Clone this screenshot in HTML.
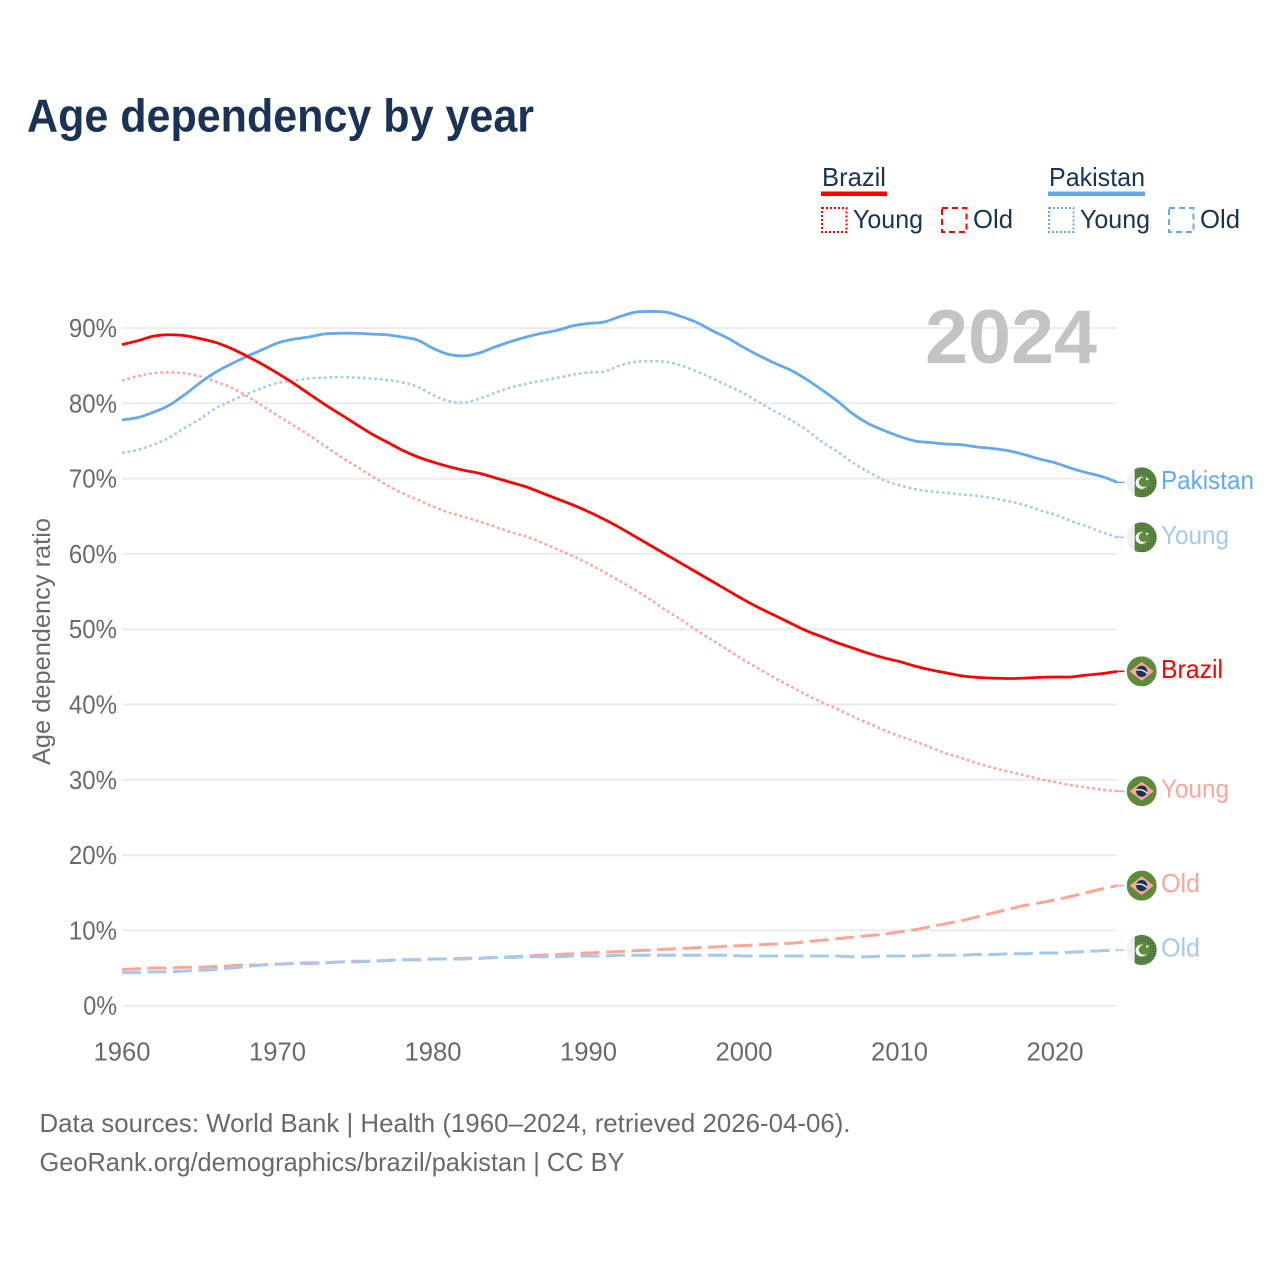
<!DOCTYPE html>
<html lang="en">
<head>
<meta charset="utf-8">
<title>Age dependency by year</title>
<style>
html,body{margin:0;padding:0;background:#fff;}
svg{display:block;font-family:"Liberation Sans",sans-serif;}
.navy{fill:#1a3354;}
.gray{fill:#666a6e;}
</style>
</head>
<body>
<svg id="chart" xmlns="http://www.w3.org/2000/svg" width="1280" height="1280" viewBox="0 0 1280 1280">
  <defs>
    <pattern id="dots" width="2.6" height="2.6" patternUnits="userSpaceOnUse">
      <rect width="2.6" height="2.6" fill="#5f8a3c"/>
      <rect x="0.7" y="0.7" width="1" height="1" fill="#1a3a66"/>
    </pattern>
    <clipPath id="flag-clip"><circle cx="0" cy="0" r="15"/></clipPath>
  </defs>
  <rect width="1280" height="1280" fill="#fff"/>
  <text class="navy" x="27" y="131.5" font-size="46" font-weight="700" textLength="507" lengthAdjust="spacingAndGlyphs">Age dependency by year</text>

  <g>
    <text class="navy" x="822" y="186" font-size="26" textLength="64" lengthAdjust="spacingAndGlyphs">Brazil</text>
    <rect x="821" y="191.5" width="66" height="4.5" fill="#ff0000"/>
    <rect x="822" y="208" width="24.5" height="24" fill="none" stroke="#ff0000" stroke-width="2" stroke-dasharray="2 2"/>
    <text class="navy" x="853" y="228" font-size="26" textLength="70" lengthAdjust="spacingAndGlyphs">Young</text>
    <rect x="942" y="208" width="24.5" height="24" fill="none" stroke="#ff0000" stroke-width="2" stroke-dasharray="6 4"/>
    <text class="navy" x="973" y="228" font-size="26" textLength="40" lengthAdjust="spacingAndGlyphs">Old</text>

    <text class="navy" x="1049" y="186" font-size="26" textLength="96" lengthAdjust="spacingAndGlyphs">Pakistan</text>
    <rect x="1048" y="191.5" width="97" height="4.5" fill="#64a8ee"/>
    <rect x="1049" y="208" width="24.5" height="24" fill="none" stroke="#64a8ee" stroke-width="2" stroke-dasharray="2 2"/>
    <text class="navy" x="1080" y="228" font-size="26" textLength="70" lengthAdjust="spacingAndGlyphs">Young</text>
    <rect x="1169" y="208" width="24.5" height="24" fill="none" stroke="#64a8ee" stroke-width="2" stroke-dasharray="6 4"/>
    <text class="navy" x="1200" y="228" font-size="26" textLength="40" lengthAdjust="spacingAndGlyphs">Old</text>
  </g>

  <g id="grid"></g>
  <g id="xaxis"></g>
  <text x="925" y="363" font-size="76" font-weight="700" fill="#c2c3c2" textLength="172" lengthAdjust="spacingAndGlyphs">2024</text>
  <text class="gray" transform="translate(50 765) rotate(-90)" x="0" y="0" font-size="25" textLength="247" lengthAdjust="spacingAndGlyphs">Age dependency ratio</text>
  <g id="series"></g>
  <g id="ends"></g>

  <text class="gray" x="39.5" y="1132" font-size="26" textLength="811" lengthAdjust="spacingAndGlyphs">Data sources: World Bank | Health (1960–2024, retrieved 2026-04-06).</text>
  <text class="gray" x="39.5" y="1171" font-size="26" textLength="585" lengthAdjust="spacingAndGlyphs">GeoRank.org/demographics/brazil/pakistan | CC BY</text>
</svg>
<script>
const startYear = 1960;
const xTicks = [1960, 1970, 1980, 1990, 2000, 2010, 2020];
const yTicks = [0, 10, 20, 30, 40, 50, 60, 70, 80, 90];

const brazilTotal = [87.8,88.3,88.9,89.1,89.0,88.6,88.1,87.3,86.3,85.2,
  84.0,82.7,81.3,79.9,78.6,77.3,76.0,74.9,73.8,72.9,
  72.2,71.6,71.1,70.7,70.1,69.5,68.9,68.1,67.3,66.5,
  65.6,64.6,63.5,62.3,61.1,59.9,58.7,57.5,56.3,55.1,
  53.9,52.8,51.8,50.8,49.8,49.0,48.2,47.5,46.8,46.2,
  45.7,45.1,44.6,44.2,43.8,43.6,43.5,43.45,43.5,43.6,
  43.65,43.65,43.9,44.1,44.4];
const brazilYoung = [83.0,83.6,84.0,84.1,84.0,83.6,82.9,82.1,81.0,79.7,
  78.4,77.1,75.8,74.4,73.0,71.7,70.4,69.2,68.1,67.2,
  66.3,65.5,64.9,64.3,63.6,62.9,62.3,61.5,60.6,59.7,
  58.7,57.6,56.4,55.2,53.9,52.5,51.2,49.8,48.5,47.2,
  45.9,44.7,43.5,42.4,41.3,40.3,39.4,38.4,37.5,36.6,
  35.8,35.1,34.3,33.5,32.9,32.2,31.6,31.1,30.6,30.1,
  29.7,29.3,29.0,28.7,28.5];
const brazilOld = [4.8,4.9,5.0,5.0,5.1,5.1,5.2,5.3,5.4,5.4,
  5.5,5.6,5.6,5.7,5.8,5.9,5.9,6.0,6.1,6.1,
  6.2,6.2,6.3,6.3,6.4,6.5,6.6,6.7,6.8,6.9,
  7.0,7.1,7.2,7.3,7.4,7.5,7.6,7.7,7.8,7.9,
  8.0,8.1,8.2,8.3,8.5,8.7,8.9,9.1,9.3,9.5,
  9.8,10.1,10.5,10.9,11.3,11.8,12.3,12.8,13.3,13.65,
  14.05,14.5,15.0,15.5,15.95];
const pakistanTotal = [77.8,78.1,78.8,79.7,81.1,82.7,84.1,85.2,86.2,87.1,
  88.0,88.5,88.8,89.2,89.3,89.3,89.2,89.1,88.8,88.4,
  87.3,86.5,86.3,86.7,87.5,88.2,88.8,89.3,89.7,90.3,
  90.6,90.8,91.5,92.1,92.2,92.1,91.5,90.7,89.6,88.6,
  87.4,86.3,85.3,84.4,83.2,81.8,80.3,78.6,77.3,76.4,
  75.6,75.0,74.8,74.6,74.5,74.2,74.0,73.7,73.2,72.6,
  72.1,71.4,70.8,70.3,69.5];
const pakistanYoung = [73.4,73.8,74.5,75.4,76.7,77.9,79.3,80.3,81.2,82.0,
  82.7,83.0,83.3,83.4,83.5,83.4,83.3,83.1,82.8,82.2,
  81.1,80.3,80.1,80.6,81.4,82.1,82.6,83.0,83.4,83.8,
  84.1,84.2,85.0,85.5,85.6,85.5,85.0,84.2,83.3,82.3,
  81.3,80.1,78.9,77.8,76.5,74.9,73.6,72.1,70.9,69.8,
  69.1,68.6,68.3,68.1,67.9,67.7,67.4,67.0,66.5,65.8,
  65.2,64.4,63.7,62.9,62.2];
const pakistanOld = [4.4,4.4,4.5,4.5,4.6,4.7,4.8,5.0,5.2,5.4,
  5.5,5.6,5.7,5.7,5.8,5.8,5.9,6.0,6.1,6.1,
  6.2,6.2,6.2,6.3,6.4,6.4,6.5,6.5,6.5,6.6,
  6.6,6.6,6.7,6.7,6.7,6.7,6.7,6.7,6.7,6.7,
  6.6,6.6,6.6,6.6,6.6,6.6,6.6,6.5,6.5,6.6,
  6.6,6.6,6.7,6.7,6.7,6.8,6.8,6.9,6.9,7.0,
  7.0,7.1,7.2,7.3,7.4];

const NS = 'http://www.w3.org/2000/svg';
const xScale = function (year) { return 122 + (year - 1960) * 15.55; };
const yScale = function (v) { return 1005.7 - v * 7.53; };
const make = function (tag, parent) {
  const el = document.createElementNS(NS, tag);
  parent.appendChild(el);
  return el;
};

function smoothPath(values) {
  const pts = values.map(function (v, i) { return [xScale(startYear + i), yScale(v)]; });
  let d = 'M' + pts[0][0].toFixed(2) + ',' + pts[0][1].toFixed(2);
  for (let i = 0; i < pts.length - 1; i++) {
    const p0 = pts[Math.max(0, i - 1)];
    const p1 = pts[i];
    const p2 = pts[i + 1];
    const p3 = pts[Math.min(pts.length - 1, i + 2)];
    d += 'C' + (p1[0] + (p2[0] - p0[0]) / 6).toFixed(2) + ',' + (p1[1] + (p2[1] - p0[1]) / 6).toFixed(2) +
         ' ' + (p2[0] - (p3[0] - p1[0]) / 6).toFixed(2) + ',' + (p2[1] - (p3[1] - p1[1]) / 6).toFixed(2) +
         ' ' + p2[0].toFixed(2) + ',' + p2[1].toFixed(2);
  }
  return d;
}

const grid = document.getElementById('grid');
yTicks.forEach(function (t) {
  const line = make('line', grid);
  
  
  line.setAttribute('x1', 122);
  line.setAttribute('x2', 1117);
  line.setAttribute('y1', yScale(t));
  line.setAttribute('y2', yScale(t));
  line.setAttribute('stroke', '#ebebeb');
  line.setAttribute('stroke-width', 2);
  const label = make('text', grid);
  
  
  label.setAttribute('class', 'gray');
  label.setAttribute('x', 117);
  label.setAttribute('y', yScale(t) + 9);
  label.setAttribute('text-anchor', 'end');
  label.setAttribute('font-size', 26);
  label.setAttribute('lengthAdjust', 'spacingAndGlyphs');
  const text = t + '%';
  label.setAttribute('textLength', (text.length - 1) * 14.3 + 19.5);
  label.textContent = text;
});

const xaxis = document.getElementById('xaxis');
xTicks.forEach(function (t) {
  const label = make('text', xaxis);
  
  
  label.setAttribute('class', 'gray');
  label.setAttribute('x', xScale(t));
  label.setAttribute('y', 1060.5);
  label.setAttribute('text-anchor', 'middle');
  label.setAttribute('font-size', 26);
  label.setAttribute('textLength', 57);
  label.setAttribute('lengthAdjust', 'spacingAndGlyphs');
  label.textContent = String(t);
});

const seriesGroup = document.getElementById('series');
const endGroup = document.getElementById('ends');

function drawFlag(country, cy) {
  const g = make('g', endGroup);
  
  
  g.setAttribute('transform', 'translate(1141.7 ' + cy + ')');
  const inner = make('g', g);
  inner.setAttribute('clip-path', 'url(#flag-clip)');
  if (country === 'brazil') {
    const bg = make('rect', inner);
    bg.setAttribute('x', -15); bg.setAttribute('y', -15);
    bg.setAttribute('width', 30); bg.setAttribute('height', 30);
    bg.setAttribute('fill', '#5f8a3c');
    const diamond = make('polygon', inner);
    diamond.setAttribute('points', '-12,0 0,-9.5 12,0 0,9.5');
    diamond.setAttribute('fill', '#ffa498');
    const globe = make('circle', inner);
    globe.setAttribute('r', 5.6);
    globe.setAttribute('fill', '#1a3354');
    const band = make('path', inner);
    band.setAttribute('d', 'M-5.5,-1 Q0,-3 5.5,2');
    band.setAttribute('fill', 'none');
    band.setAttribute('stroke', '#e8eef5');
    band.setAttribute('stroke-width', 1.4);
  } else {
    const white = make('rect', inner);
    white.setAttribute('x', -15); white.setAttribute('y', -15);
    white.setAttribute('width', 8); white.setAttribute('height', 30);
    white.setAttribute('fill', '#f0f0f0');
    const field = make('rect', inner);
    field.setAttribute('x', -7); field.setAttribute('y', -15);
    field.setAttribute('width', 22); field.setAttribute('height', 30);
    field.setAttribute('fill', 'url(#dots)');
    const patch = make('circle', inner);
    patch.setAttribute('cx', 1.5); patch.setAttribute('cy', 0);
    patch.setAttribute('r', 7.5);
    patch.setAttribute('fill', '#5f8a3c');
    const crescent = make('path', inner);
    crescent.setAttribute('d', 'M5,3.5 A6,6 0 1 1 2,-5 A4.8,4.8 0 1 0 5,3.5 Z');
    crescent.setAttribute('fill', '#f4f4f0');
    const star = make('circle', inner);
    star.setAttribute('cx', 5.5); star.setAttribute('cy', -3.5);
    star.setAttribute('r', 1.2);
    star.setAttribute('fill', '#f4f4f0');
  }
}

function drawSeries(name, country, values, color, width, dash, labelText, labelWidth, labelColor) {
  const path = make('path', seriesGroup);
  
  
  path.setAttribute('d', smoothPath(values));
  path.setAttribute('fill', 'none');
  path.setAttribute('stroke', color);
  path.setAttribute('stroke-width', width);
  path.setAttribute('stroke-linejoin', 'round');
  if (dash) path.setAttribute('stroke-dasharray', dash);
  const last = values[values.length - 1];
  const cy = yScale(last);
  const lead = make('line', endGroup);
  
  
  lead.setAttribute('x1', xScale(startYear + values.length - 1));
  lead.setAttribute('x2', 1124.5);
  lead.setAttribute('y1', cy);
  lead.setAttribute('y2', cy);
  lead.setAttribute('stroke', color);
  lead.setAttribute('stroke-width', 1.5);
  drawFlag(country, cy);
  const label = make('text', endGroup);
  
  
  label.setAttribute('x', 1161);
  label.setAttribute('y', cy + 6.5);
  label.setAttribute('font-size', 26);
  label.setAttribute('fill', labelColor);
  label.setAttribute('textLength', labelWidth);
  label.setAttribute('lengthAdjust', 'spacingAndGlyphs');
  label.textContent = labelText;
}

drawSeries('brazil-old', 'brazil', brazilOld, '#ffa498', 3, '19 6.5', 'Old', 39, '#ffa498');
drawSeries('pakistan-old', 'pakistan', pakistanOld, '#a5c8ef', 3, '19 6.5', 'Old', 39, '#a5c8ef');
drawSeries('brazil-young', 'brazil', brazilYoung, '#ffa498', 2.5, '2.8 2.8', 'Young', 68, '#ffa498');
drawSeries('pakistan-young', 'pakistan', pakistanYoung, '#a5c8ef', 2.5, '2.8 2.8', 'Young', 68, '#a5c8ef');
drawSeries('pakistan-total', 'pakistan', pakistanTotal, '#64a8ee', 2.8, '', 'Pakistan', 93, '#64a8ee');
drawSeries('brazil-total', 'brazil', brazilTotal, '#ff0000', 2.8, '', 'Brazil', 62, '#ff0000');
</script>
</body>
</html>
